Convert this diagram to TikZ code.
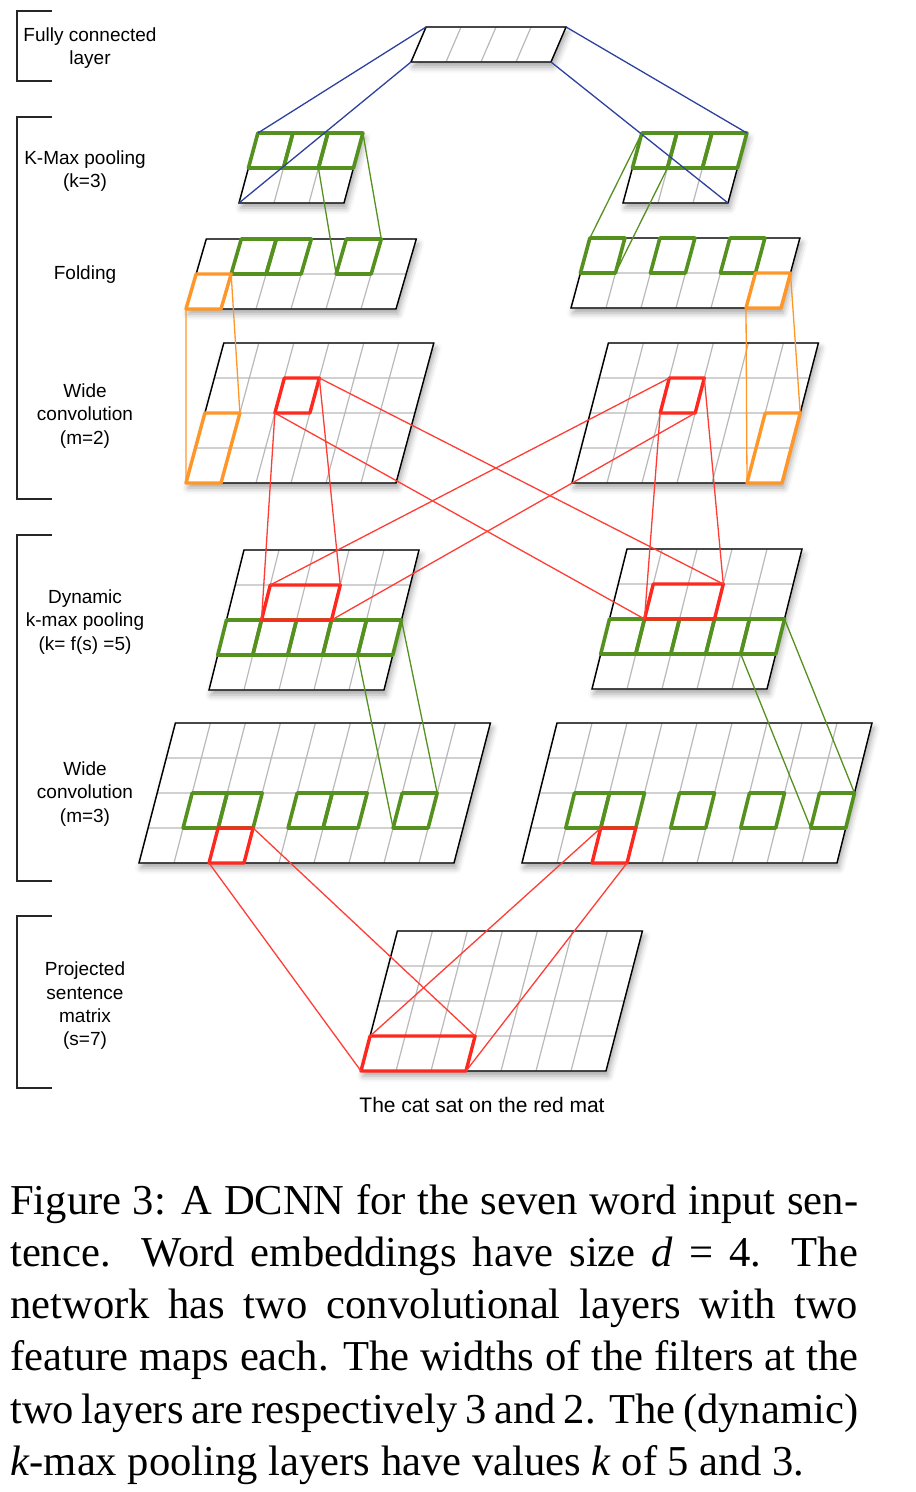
\documentclass[tikz,border=0pt]{standalone}
\usepackage{fontspec}
\setmainfont{Liberation Serif}
\newfontfamily\labelfont{Liberation Sans}
\usetikzlibrary{shadows.blur}

\definecolor{fcblue}{RGB}{45,65,160}
\definecolor{mapgreen}{RGB}{85,145,30}
\definecolor{foldorange}{RGB}{255,150,40}
\definecolor{filtred}{RGB}{255,40,30}
\definecolor{cellgray}{RGB}{185,185,185}

\tikzset{
  sheet/.style={fill=white, blur shadow={shadow xshift=2pt, shadow yshift=-5pt, shadow blur radius=6pt, shadow opacity=35}},
  lattice/.style={draw=cellgray, line width=1.2pt, step=1},
  border/.style={draw=black, line width=1.4pt},
  greencell/.style={draw=mapgreen, line width=3.6pt, line join=round},
  orangecell/.style={draw=foldorange, line width=3.4pt, line join=round},
  redcell/.style={draw=filtred, line width=3.4pt, line join=round},
  blueline/.style={draw=fcblue, line width=1.3pt},
  greenline/.style={draw=mapgreen, line width=1.3pt},
  orangeline/.style={draw=foldorange, line width=1.3pt},
  redline/.style={draw=filtred!90!white, line width=1.3pt},
  bracket/.style={draw=black!85, line width=1.5pt},
  layername/.style={font=\labelfont\fontsize{19}{23.3}\selectfont, align=center, inner sep=0pt},
}

\begin{document}
\begin{tikzpicture}[x=1pt, y=-1pt]
  \useasboundingbox (0,0) rectangle (916,1492);

  % fully connected layer
  \begin{scope}[shift={(411,62)}, x=35pt, y=35pt, xslant=0.43]
    \path[sheet] (0,0) rectangle (4,1);
    \draw[lattice] (0,0) grid (4,1);
    \draw[border] (0,0) rectangle (4,1);
    \coordinate (fc-tl) at (0,1); \coordinate (fc-bl) at (0,0);
    \coordinate (fc-tr) at (4,1); \coordinate (fc-br) at (4,0);
  \end{scope}

  % k-max pooling
  \begin{scope}[shift={(239,203)}, x=35pt, y=35pt, xslant=0.27]
    \path[sheet] (0,0) rectangle (3,2);
    \draw[lattice] (0,0) grid (3,2);
    \draw[border] (0,0) rectangle (3,2);
    \foreach \c in {0,1,2} \draw[greencell] (\c,1) rectangle +(1,1);
    \coordinate (kl-tl) at (0,2); \coordinate (kl-bl) at (0,0);
    \coordinate (kl-a) at (2,1); \coordinate (kl-b) at (3,2);
  \end{scope}
  \begin{scope}[shift={(623,203)}, x=35pt, y=35pt, xslant=0.27]
    \path[sheet] (0,0) rectangle (3,2);
    \draw[lattice] (0,0) grid (3,2);
    \draw[border] (0,0) rectangle (3,2);
    \foreach \c in {0,1,2} \draw[greencell] (\c,1) rectangle +(1,1);
    \coordinate (kr-tr) at (3,2); \coordinate (kr-br) at (3,0);
    \coordinate (kr-a) at (0,2); \coordinate (kr-b) at (1,1);
  \end{scope}

  % folding
  \begin{scope}[shift={(186,309)}, x=35pt, y=35pt, xslant=0.29]
    \path[sheet] (0,0) rectangle (6,2);
    \draw[lattice] (0,0) grid (6,2);
    \draw[border] (0,0) rectangle (6,2);
    \foreach \c in {1,2,4} \draw[greencell] (\c,1) rectangle +(1,1);
    \draw[orangecell] (0,0) rectangle (1,1);
    \coordinate (fl-a) at (4,1); \coordinate (fl-b) at (5,2);
    \coordinate (fl-c) at (0,0); \coordinate (fl-d) at (1,1);
  \end{scope}
  \begin{scope}[shift={(571,308)}, x=35pt, y=35pt, xslant=0.27]
    \path[sheet] (0,0) rectangle (6,2);
    \draw[lattice] (0,0) grid (6,2);
    \draw[border] (0,0) rectangle (6,2);
    \foreach \c in {0,2,4} \draw[greencell] (\c,1) rectangle +(1,1);
    \draw[orangecell] (5,0) rectangle (6,1);
    \coordinate (fr-a) at (0,2); \coordinate (fr-b) at (1,1);
    \coordinate (fr-c) at (5,0); \coordinate (fr-d) at (6,1);
  \end{scope}

  % wide convolution, m=2
  \begin{scope}[shift={(186,483)}, x=35pt, y=35pt, xslant=0.27]
    \path[sheet] (0,0) rectangle (6,4);
    \draw[lattice] (0,0) grid (6,4);
    \draw[border] (0,0) rectangle (6,4);
    \draw[orangecell] (0,0) rectangle (1,2);
    \draw[redcell] (2,2) rectangle (3,3);
    \coordinate (cl-c) at (0,0); \coordinate (cl-d) at (1,2);
    \coordinate (cl-r1) at (2,2); \coordinate (cl-r2) at (3,3);
  \end{scope}
  \begin{scope}[shift={(572,483)}, x=35pt, y=35pt, xslant=0.26]
    \path[sheet] (0,0) rectangle (6,4);
    \draw[lattice] (0,0) grid (6,4);
    \draw[border] (0,0) rectangle (6,4);
    \draw[orangecell] (5,0) rectangle (6,2);
    \draw[redcell] (2,2) rectangle (3,3);
    \coordinate (cr-c) at (5,0); \coordinate (cr-d) at (6,2);
    \coordinate (cr-r1) at (2,2); \coordinate (cr-r2) at (3,3);
    \coordinate (cr-r3) at (2,3); \coordinate (cr-r4) at (3,2);
  \end{scope}

  % dynamic k-max pooling
  \begin{scope}[shift={(209,690)}, x=35pt, y=35pt, xslant=0.25]
    \path[sheet] (0,0) rectangle (5,4);
    \draw[lattice] (0,0) grid (5,4);
    \draw[border] (0,0) rectangle (5,4);
    \foreach \c in {0,...,4} \draw[greencell] (\c,1) rectangle +(1,1);
    \draw[redcell] (1,2) rectangle (3,3);
    \coordinate (dl-bl) at (1,2); \coordinate (dl-tr) at (3,3);
    \coordinate (dl-tl) at (1,3); \coordinate (dl-br) at (3,2);
    \coordinate (dl-g1) at (4,1); \coordinate (dl-g2) at (5,2);
  \end{scope}
  \begin{scope}[shift={(592,689)}, x=35pt, y=35pt, xslant=0.25]
    \path[sheet] (0,0) rectangle (5,4);
    \draw[lattice] (0,0) grid (5,4);
    \draw[border] (0,0) rectangle (5,4);
    \foreach \c in {0,...,4} \draw[greencell] (\c,1) rectangle +(1,1);
    \draw[redcell] (1,2) rectangle (3,3);
    \coordinate (dr-bl) at (1,2); \coordinate (dr-tr) at (3,3);
    \coordinate (dr-g1) at (4,1); \coordinate (dr-g2) at (5,2);
  \end{scope}

  % wide convolution, m=3
  \begin{scope}[shift={(139,863)}, x=35pt, y=35pt, xslant=0.26]
    \path[sheet] (0,0) rectangle (9,4);
    \draw[lattice] (0,0) grid (9,4);
    \draw[border] (0,0) rectangle (9,4);
    \foreach \c in {1,2,4,5,7} \draw[greencell] (\c,1) rectangle +(1,1);
    \draw[redcell] (2,0) rectangle (3,1);
    \coordinate (el-g1) at (7,1); \coordinate (el-g2) at (8,2);
    \coordinate (el-bl) at (2,0); \coordinate (el-tr) at (3,1);
  \end{scope}
  \begin{scope}[shift={(522,863)}, x=35pt, y=35pt, xslant=0.25]
    \path[sheet] (0,0) rectangle (9,4);
    \draw[lattice] (0,0) grid (9,4);
    \draw[border] (0,0) rectangle (9,4);
    \foreach \c in {1,2,4,6,8} \draw[greencell] (\c,1) rectangle +(1,1);
    \draw[redcell] (2,0) rectangle (3,1);
    \coordinate (er-g1) at (8,1); \coordinate (er-g2) at (9,2);
    \coordinate (er-tl) at (2,1); \coordinate (er-br) at (3,0);
  \end{scope}

  % projected sentence matrix
  \begin{scope}[shift={(361,1071)}, x=35pt, y=35pt, xslant=0.26]
    \path[sheet] (0,0) rectangle (7,4);
    \draw[lattice] (0,0) grid (7,4);
    \draw[border] (0,0) rectangle (7,4);
    \draw[redcell] (0,0) rectangle (3,1);
    \coordinate (s-bl) at (0,0); \coordinate (s-tr) at (3,1);
    \coordinate (s-tl) at (0,1); \coordinate (s-br) at (3,0);
  \end{scope}

  % connections
  \draw[blueline] (fc-tl) -- (kl-tl) (fc-bl) -- (kl-bl) (fc-tr) -- (kr-tr) (fc-br) -- (kr-br);
  \draw[greenline] (kl-a) -- (fl-a) (kl-b) -- (fl-b) (kr-a) -- (fr-a) (kr-b) -- (fr-b);
  \draw[orangeline] (fl-c) -- (cl-c) (fl-d) -- (cl-d) (fr-c) -- (cr-c) (fr-d) -- (cr-d);
  \draw[redline] (cl-r1) -- (dl-bl) (cl-r2) -- (dl-tr) (cl-r1) -- (dr-bl) (cl-r2) -- (dr-tr);
  \draw[redline] (cr-r1) -- (dr-bl) (cr-r2) -- (dr-tr) (cr-r3) -- (dl-tl) (cr-r4) -- (dl-br);
  \draw[greenline] (dl-g1) -- (el-g1) (dl-g2) -- (el-g2) (dr-g1) -- (er-g1) (dr-g2) -- (er-g2);
  \draw[redline] (el-bl) -- (s-bl) (el-tr) -- (s-tr) (er-tl) -- (s-tl) (er-br) -- (s-br);

  % brackets and layer names
  \draw[bracket] (52,11) -- (17,11) -- (17,81) -- (52,81);
  \draw[bracket] (52,117) -- (17,117) -- (17,499) -- (52,499);
  \draw[bracket] (52,535) -- (17,535) -- (17,881) -- (52,881);
  \draw[bracket] (52,916) -- (17,916) -- (17,1088) -- (52,1088);
  \node[layername] (fc-name) at (90,48) {Fully connected\\layer};
  \node[layername] (kmax-name) at (85,171) {K-Max pooling\\(k=3)};
  \node[layername] (fold-name) at (85,275) {Folding};
  \node[layername] (conv2-name) at (85,416) {Wide\\convolution\\(m=2)};
  \node[layername] (dyn-name) at (85,622) {Dynamic\\k-max pooling\\(k= f(s) =5)};
  \node[layername] (conv3-name) at (85,794) {Wide\\convolution\\(m=3)};
  \node[layername] (sent-name) at (85,1006) {Projected\\sentence\\matrix\\(s=7)};
  \node[font=\labelfont\fontsize{21}{25}\selectfont] (words) at (482,1105) {The cat sat on the red mat};

  % caption
  \node[anchor=north west, inner sep=0pt, text width=848pt, align=justify,
        font=\fontsize{42.6}{52.2}\selectfont] (caption) at (10,1184)
    {Figure 3: A DCNN for the seven word input sen-\linebreak
     tence. Word embeddings have size \textit{d} = 4. The\linebreak
     network has two convolutional layers with two\linebreak
     feature maps each. The widths of the filters at the\linebreak
     two layers are respectively 3 and 2. The (dynamic)\linebreak
     \textit{k}-max pooling layers have values \textit{k} of 5 and 3.};
\end{tikzpicture}
\end{document}
